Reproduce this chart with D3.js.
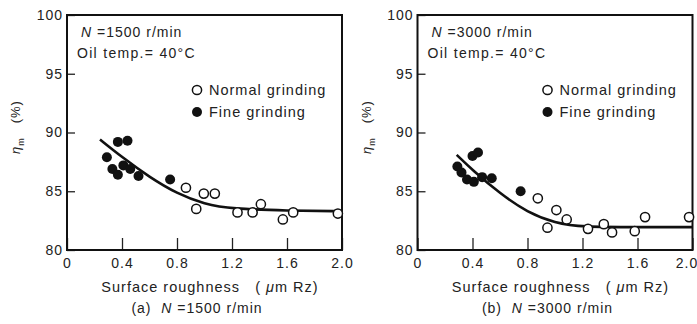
<!DOCTYPE html>
<head>
    <meta charset="utf-8">
    <script src="https://d3js.org/d3.v7.min.js"></script>
</head>
<style>
    body { margin: 0; background: #fff; }
    text { font-family: "Liberation Sans", Arial, sans-serif; fill: #222; letter-spacing: 1px; white-space: pre; }
    .axis path { stroke: none; }
    .axis line { stroke: #222; stroke-width: 1.3; }
</style>
<body>
    <div id="chart"></div>
</body>

<script>
    // tick labels
    const xTicks = [0, 0.4, 0.8, 1.2, 1.6, 2.0];
    const yTicks = [80, 85, 90, 95, 100];

    // (a) N = 1500 r/min
    const fineA = [[0.29, 87.9], [0.33, 86.9], [0.37, 86.4], [0.37, 89.2], [0.41, 87.2],
                   [0.44, 89.3], [0.46, 86.9], [0.52, 86.3], [0.75, 86.0]];
    const normalA = [[0.865, 85.3], [0.94, 83.5], [0.995, 84.8], [1.075, 84.8], [1.24, 83.2],
                     [1.35, 83.2], [1.41, 83.9], [1.57, 82.6], [1.645, 83.2], [1.97, 83.1]];
    const curveA = [[0.24, 89.4], [0.4, 87.9], [0.6, 86.2], [0.8, 84.8], [1.0, 83.9],
                    [1.2, 83.5], [1.6, 83.35], [2.0, 83.3]];

    // (b) N = 3000 r/min
    const fineB = [[0.29, 87.1], [0.32, 86.6], [0.36, 86.0], [0.40, 88.0], [0.41, 85.8],
                   [0.44, 88.3], [0.47, 86.2], [0.54, 86.1], [0.75, 85.0]];
    const normalB = [[0.875, 84.4], [0.945, 81.9], [1.01, 83.4], [1.085, 82.6], [1.24, 81.8],
                     [1.355, 82.2], [1.415, 81.5], [1.58, 81.6], [1.655, 82.8], [1.975, 82.8]];
    const curveB = [[0.285, 88.1], [0.4, 86.8], [0.6, 84.8], [0.8, 83.2], [1.0, 82.3],
                    [1.2, 81.95], [1.6, 81.95], [2.0, 81.95]];

    const panels = [
        {left: 67, speed: "1500", tag: "(a)", fine: fineA, normal: normalA, curve: curveA},
        {left: 417.5, speed: "3000", tag: "(b)", fine: fineB, normal: normalB, curve: curveB}
    ];

    const plotTop = 15, plotBottom = 250, plotW = 275;

    const svg = d3.select("#chart")
        .append("svg")
        .attr("width", 697)
        .attr("height", 324);

    const y = d3.scaleLinear().domain([80, 100]).range([plotBottom, plotTop]);

    panels.forEach((p, i) => {
        const x = d3.scaleLinear().domain([0, 2.0]).range([p.left, p.left + plotW]);
        const g = svg.append("g");

        // inward ticks + labels
        g.append("g")
            .attr("class", "axis")
            .attr("transform", `translate(${p.left},0)`)
            .call(d3.axisLeft(y).tickValues(yTicks).tickSizeInner(-8).tickSizeOuter(0).tickPadding(4))
            .call(a => a.selectAll("text").style("font-size", "14px"));

        g.append("g")
            .attr("class", "axis")
            .attr("transform", `translate(0,${plotBottom})`)
            .call(d3.axisBottom(x).tickValues(xTicks).tickSizeInner(-12).tickSizeOuter(0).tickPadding(8)
                .tickFormat(d => d === 0 ? "0" : d3.format(".1f")(d)))
            .call(a => a.selectAll("text").style("font-size", "14px")
                .attr("dx", d => (i === 1 && d === 2.0) ? -6 : 0));

        // frame
        g.append("rect")
            .attr("x", p.left).attr("y", plotTop)
            .attr("width", plotW).attr("height", plotBottom - plotTop)
            .attr("fill", "none").attr("stroke", "#111").attr("stroke-width", 2);

        // fitted curve
        g.append("path")
            .datum(p.curve)
            .attr("fill", "none")
            .attr("stroke", "#111")
            .attr("stroke-width", 2.6)
            .attr("d", d3.line().x(d => x(d[0])).y(d => y(d[1])).curve(d3.curveBasis));

        g.selectAll(".normal")
            .data(p.normal)
            .join("circle")
            .attr("class", "normal")
            .attr("cx", d => x(d[0])).attr("cy", d => y(d[1])).attr("r", 4.6)
            .attr("fill", "#fff").attr("stroke", "#111").attr("stroke-width", 1.5);

        g.selectAll(".fine")
            .data(p.fine)
            .join("circle")
            .attr("class", "fine")
            .attr("cx", d => x(d[0])).attr("cy", d => y(d[1])).attr("r", 5)
            .attr("fill", "#111");

        // annotations
        const n = g.append("text").attr("x", p.left + 14).attr("y", 37).style("font-size", "14px");
        n.append("tspan").style("font-style", "italic").text("N");
        n.append("tspan").text(` =${p.speed} r/min`);
        g.append("text").attr("x", p.left + 10).attr("y", 58).style("font-size", "14px")
            .style("letter-spacing", "1.3px")
            .text("Oil temp.= 40°C");

        // legend
        const lx = p.left + 130;
        g.append("circle").attr("cx", lx).attr("cy", 90).attr("r", 4.6)
            .attr("fill", "#fff").attr("stroke", "#111").attr("stroke-width", 1.5);
        g.append("text").attr("x", lx + 12).attr("y", 95).style("font-size", "14.5px").text("Normal grinding");
        g.append("circle").attr("cx", lx).attr("cy", 112).attr("r", 5).attr("fill", "#111");
        g.append("text").attr("x", lx + 12).attr("y", 117).style("font-size", "14.5px").text("Fine grinding");

        // y label
        const yl = g.append("text")
            .attr("transform", `translate(${p.left - 47},127) rotate(-90)`)
            .attr("text-anchor", "middle").style("font-size", "13px");
        yl.append("tspan").style("font-style", "italic").text("η");
        yl.append("tspan").attr("dy", 4).style("font-size", "9px").text("m");
        yl.append("tspan").attr("dy", -4).text("   (%)");

        // x label and caption
        const xl = g.append("text").attr("x", p.left + 143).attr("y", 292)
            .attr("text-anchor", "middle").style("font-size", "14.5px");
        xl.append("tspan").text("Surface roughness   ( ");
        xl.append("tspan").style("font-style", "italic").text("μ");
        xl.append("tspan").text("m Rz)");

        const cap = g.append("text").attr("x", p.left + 130).attr("y", 313)
            .attr("text-anchor", "middle").style("font-size", "14px");
        cap.append("tspan").text(`${p.tag}  `);
        cap.append("tspan").style("font-style", "italic").text("N");
        cap.append("tspan").text(` =${p.speed} r/min`);
    });
</script>
